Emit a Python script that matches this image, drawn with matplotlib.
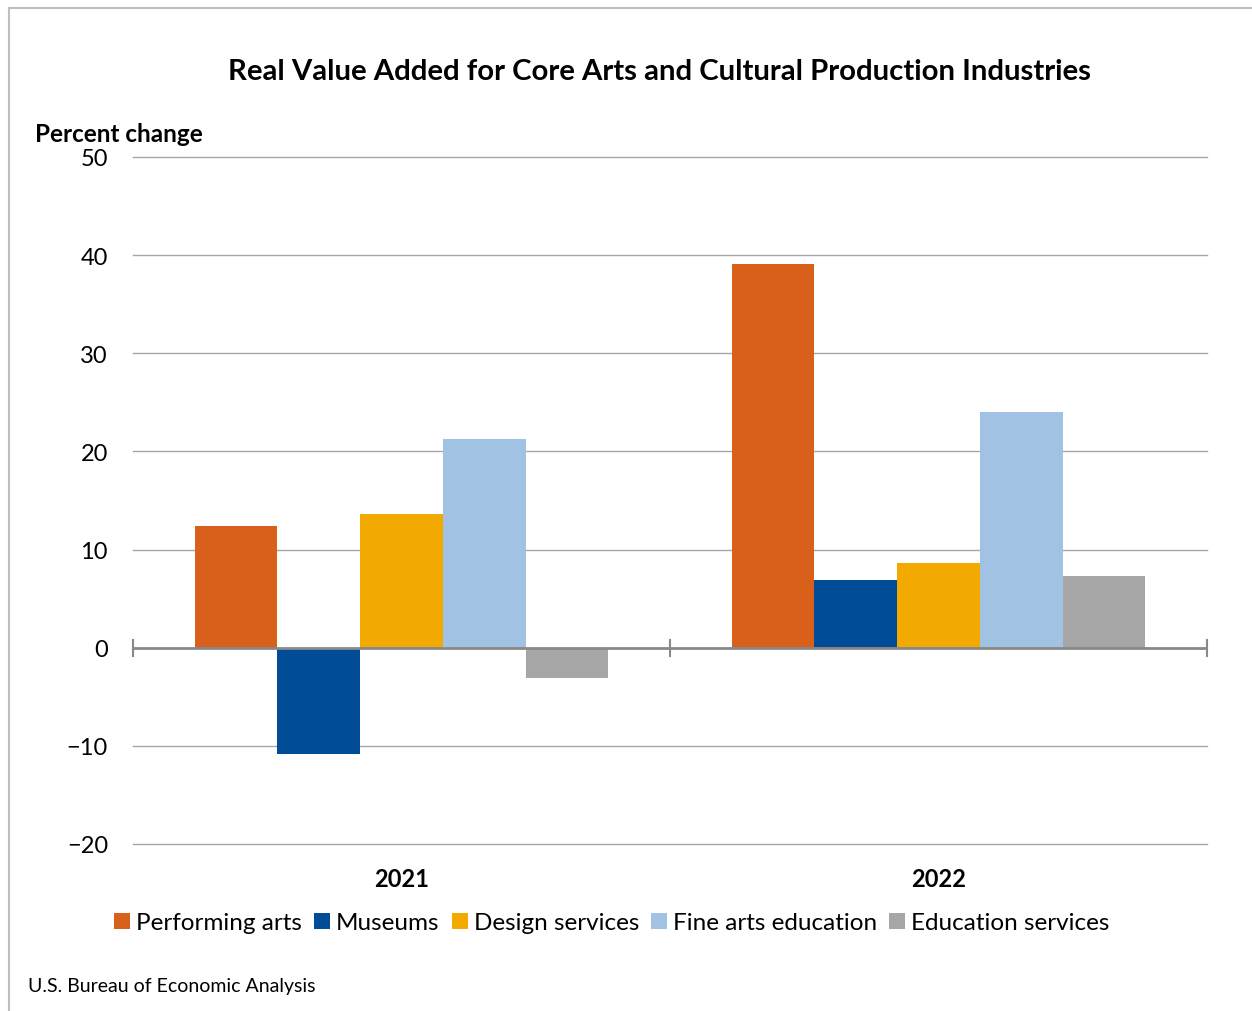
import numpy as np
import matplotlib.pyplot as plt
from matplotlib.lines import Line2D
from matplotlib.patches import Patch

plt.rcParams['font.family'] = ['Lato', 'DejaVu Sans']

years = ['2021', '2022']
series = ['Performing arts', 'Museums', 'Design services', 'Fine arts education', 'Education services']
performing = [12.4, 39.1]
museums = [-10.8, 6.9]
design = [13.6, 8.6]
fine_arts = [21.3, 24.0]
education = [-3.1, 7.3]
colors = ['#D9601A', '#004C97', '#F2AA00', '#A2C2E4', '#A6A6A6']
yticks = [-20, -10, 0, 10, 20, 30, 40, 50]

values = [performing, museums, design, fine_arts, education]

fig = plt.figure(figsize=(12.52, 10.12), dpi=100)
ax = fig.add_axes([133/1252, 1-845/1012, (1207-133)/1252, (845-158)/1012])

x = np.arange(len(years))
w = 0.154
for i, (vals, c) in enumerate(zip(values, colors)):
    ax.bar(x + (i-2)*w, vals, width=w, color=c, zorder=3)

ax.set_xlim(-0.5, 1.5)
ax.set_ylim(-20, 50)
ax.set_yticks(yticks)
ax.set_yticklabels([str(t).replace('-', '\u2212') for t in yticks], fontsize=17)
ax.tick_params(axis='y', length=0, pad=18)
ax.tick_params(axis='x', length=0)
ax.set_xticks([])
for s in ax.spines.values():
    s.set_visible(False)
for t in yticks:
    if t != 0:
        ax.axhline(t, color='#A6A6A6', lw=1, zorder=1, clip_on=False)
ax.axhline(0, color='#898989', lw=2, zorder=4)
for xs in [-0.5, 0.5, 1.5]:
    ax.plot([xs, xs], [-0.8, 0.8], color='#898989', lw=1.5, zorder=4, clip_on=False)

for xi, yr in zip(x, years):
    fig.text((133 + (xi + 0.5) * 537) / 1252, 1-880/1012, yr, ha='center', va='center',
             fontsize=17, fontweight='bold')

fig.text(660/1252, 1-72/1012, 'Real Value Added for Core Arts and Cultural Production Industries',
         ha='center', va='center', fontsize=21.2, fontweight='bold')
fig.text(35/1252, 1-135/1012, 'Percent change', ha='left', va='center', fontsize=17.5, fontweight='bold')
fig.text(28/1252, 1-987/1012, 'U.S. Bureau of Economic Analysis', ha='left', va='center', fontsize=14)

handles = [Patch(facecolor=c, edgecolor='none') for c in colors]
fig.legend(handles, series, loc='center', bbox_to_anchor=(612/1252, 1-924/1012), ncol=5,
           frameon=False, fontsize=17.5, handlelength=0.65, handleheight=0.65, handletextpad=0.25,
           columnspacing=0.5)

fig.add_artist(Line2D([9/1252, 9/1252], [0, 1-9/1012], color='#BFBFBF', lw=1.5))
fig.add_artist(Line2D([9/1252, 1], [1-9/1012, 1-9/1012], color='#BFBFBF', lw=1.5))

fig.savefig('out.png', dpi=100)
